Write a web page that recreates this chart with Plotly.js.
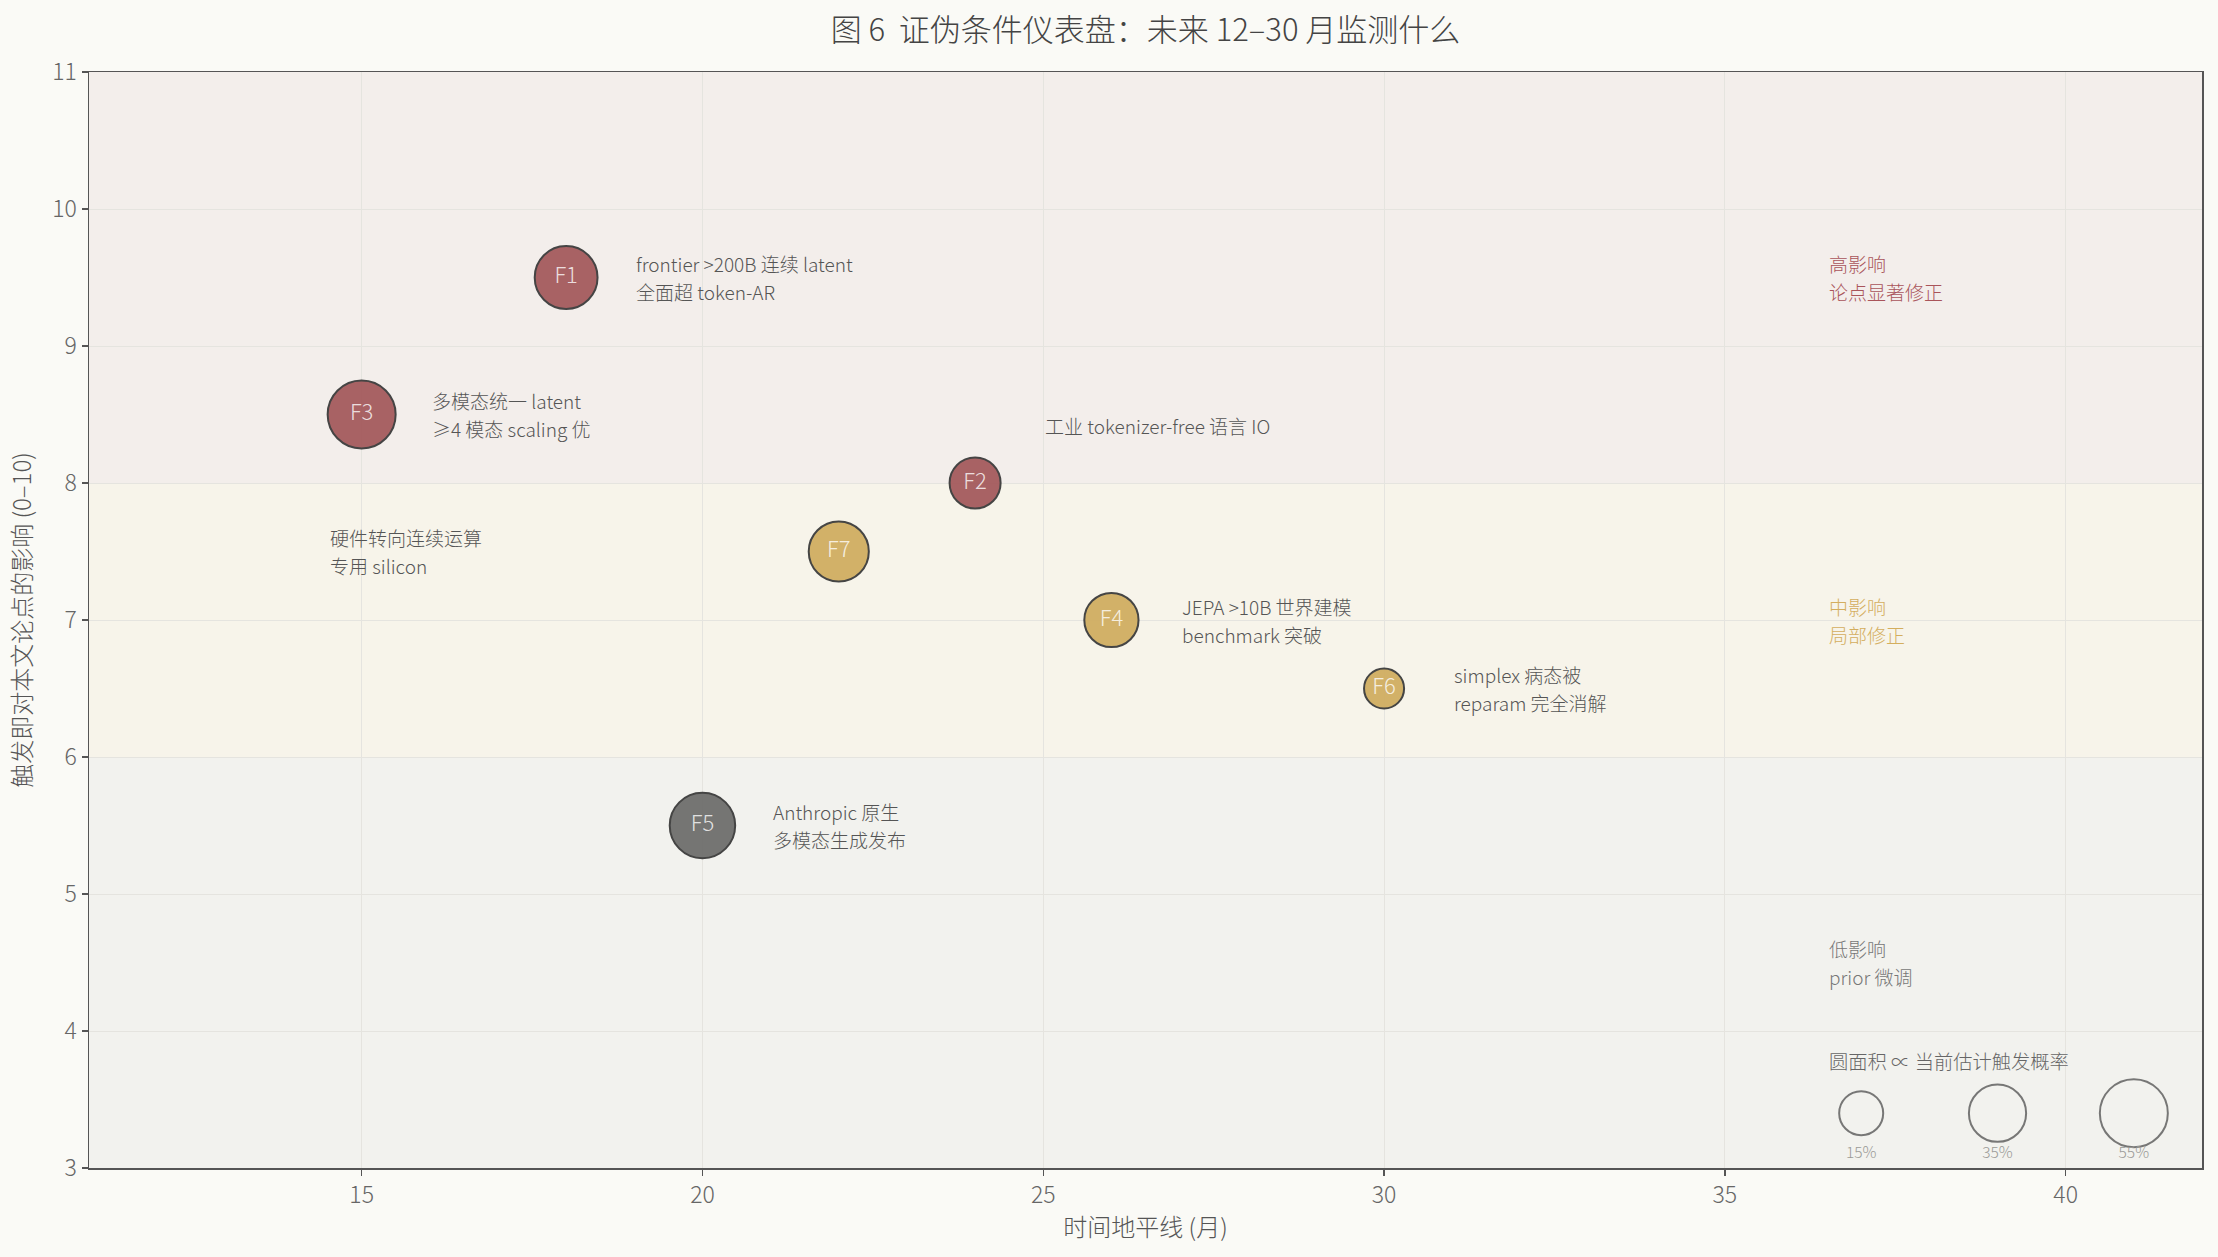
<!DOCTYPE html>
<html>
<head>
<meta charset="utf-8">
<script src="https://cdn.plot.ly/plotly-3.0.1.min.js"></script>
<style>
  html, body { margin: 0; padding: 0; background: #fafaf6; }
  #chart { width: 2218px; height: 1257px; }
</style>
</head>
<body>
<div id="chart"></div>
<script>
// falsification conditions: horizon (months), impact (0-10), est. trigger probability (%)
const ids = ['F1', 'F2', 'F3', 'F4', 'F5', 'F6', 'F7'];
const horizon = [18, 24, 15, 26, 20, 30, 22];
const impact = [9.5, 8, 8.5, 7, 5.5, 6.5, 7.5];
const prob = [45, 25, 55, 30, 50, 10, 40];
const notes = [
    'frontier >200B 连续 latent\n全面超 token-AR',
    '工业 tokenizer-free 语言 IO',
    '多模态统一 latent\n≥4 模态 scaling 优',
    'JEPA >10B 世界建模\nbenchmark 突破',
    'Anthropic 原生\n多模态生成发布',
    'simplex 病态被\nreparam 完全消解',
    '硬件转向连续运算\n专用 silicon'
];

// size key
const keyProb = [15, 35, 55];
const keyX = [37, 39, 41];
const keyLabels = ['15%', '35%', '55%'];

// impact bands
const bandNames = ['high', 'mid', 'low'];
const bandFrom = [8, 6, 3];
const bandTo = [11, 8, 6];
const bandText = ['高影响\n论点显著修正', '中影响\n局部修正', '低影响\nprior 微调'];
const bandTextY = [9.5, 7, 4.5];

const FONT = '"Noto Sans CJK SC Light", "Noto Sans CJK SC", "Noto Sans", sans-serif';
const fill = { high: '#a3585a', mid: '#d0ad5f', low: '#6c6c6a' };
const bandBg = { high: '#f3eeeb', mid: '#f7f4ea', low: '#f2f2ee' };
const bandInk = { high: '#a9545a', mid: '#d4ae5e', low: '#777777' };

const LINE_W = 2;
const LINE_GAP = 28; // px between text lines
function diam(p) {
    // area grows linearly with probability (plus a floor)
    return Math.sqrt(1072 + 69.6 * p) - LINE_W;
}
function tierOf(v) {
    return v >= 8 ? 'high' : (v >= 6 ? 'mid' : 'low');
}

// where each note sits relative to its bubble
const noteOffset = { F2: [1, 0.42], F7: [-7.5, 0] };

const bubbles = {
    type: 'scatter',
    mode: 'markers+text',
    x: horizon,
    y: impact,
    text: ids,
    textposition: 'middle center',
    textfont: { family: FONT, size: 22, color: 'rgba(255,255,255,0.8)', weight: 300 },
    marker: {
        size: prob.map(diam),
        color: impact.map(v => fill[tierOf(v)]),
        opacity: 0.93,
        line: { color: '#383838', width: LINE_W }
    },
    hoverinfo: 'skip',
    cliponaxis: false
};

const key = {
    type: 'scatter',
    mode: 'markers',
    x: keyX,
    y: keyX.map(() => 3.4),
    marker: {
        size: keyProb.map(diam),
        color: 'rgba(0,0,0,0)',
        line: { color: '#444', width: LINE_W }
    },
    hoverinfo: 'skip'
};

const keyText = {
    type: 'scatter',
    mode: 'text',
    x: keyX,
    y: keyX.map(() => 3.1),
    text: keyLabels,
    textposition: 'middle center',
    textfont: { family: FONT, size: 15.5, color: '#9a9a96', weight: 300 },
    hoverinfo: 'skip'
};

const shapes = bandNames.map((b, i) => ({
    type: 'rect', layer: 'below',
    xref: 'paper', x0: 0, x1: 1,
    yref: 'y', y0: bandFrom[i], y1: bandTo[i],
    fillcolor: bandBg[b], line: { width: 0 }
}));

const annotations = [];
// multi-line text block, one annotation per line so the line gap can be set
function addBlock(x, y, str, font) {
    const lines = str.split('\n');
    lines.forEach((ln, k) => {
        annotations.push({
            x: x, y: y, xref: 'x', yref: 'y',
            yshift: ((lines.length - 1) / 2 - k) * LINE_GAP,
            text: ln, showarrow: false,
            xanchor: 'left', yanchor: 'middle', align: 'left',
            font: font
        });
    });
}
ids.forEach((id, i) => {
    const off = noteOffset[id] || [1, 0];
    addBlock(horizon[i] + off[0], impact[i] + off[1], notes[i],
        { family: FONT, size: 19, color: '#555', weight: 300 });
});
bandNames.forEach((b, i) => {
    addBlock(36.5, bandTextY[i], bandText[i],
        { family: FONT, size: 19, color: bandInk[b], weight: 300 });
});
addBlock(36.5, 3.78, '圆面积 ∝ 当前估计触发概率',
    { family: FONT, size: 19.3, color: '#666', weight: 300 });

const axisCommon = {
    showline: true, mirror: true, linecolor: '#555', linewidth: 1.5,
    ticks: 'outside', ticklen: 6, tickcolor: '#555', tickwidth: 1.5,
    gridcolor: '#e5e4df', gridwidth: 1, zeroline: false,
    tickfont: { family: FONT, size: 23, color: '#666', weight: 300 }
};

const layout = {
    width: 2218, height: 1257,
    margin: { l: 89, r: 16, t: 72, b: 89 },
    paper_bgcolor: '#fafaf6',
    plot_bgcolor: '#f2f2ee',
    showlegend: false,
    font: { family: FONT, color: '#555' },
    title: {
        text: '图 6\u00a0 证伪条件仪表盘：未来 12–30 月监测什么',
        x: 0.5, xref: 'paper', xanchor: 'center',
        y: 0.976, yref: 'container', yanchor: 'middle',
        font: { family: FONT, size: 31, color: '#444', weight: 300 }
    },
    xaxis: Object.assign({}, axisCommon, {
        range: [11, 42], tick0: 0, dtick: 5,
        title: { text: '时间地平线 (月)', standoff: 10,
                 font: { family: FONT, size: 24, color: '#555', weight: 300 } }
    }),
    yaxis: Object.assign({}, axisCommon, {
        range: [3, 11], tick0: 0, dtick: 1,
        title: { text: '触发即对本文论点的影响 (0–10)', standoff: 14,
                 font: { family: FONT, size: 24, color: '#555', weight: 300 } }
    }),
    shapes: shapes,
    annotations: annotations
};

Plotly.newPlot('chart', [bubbles, key, keyText], layout, { displayModeBar: false, staticPlot: true });
</script>
</body>
</html>
